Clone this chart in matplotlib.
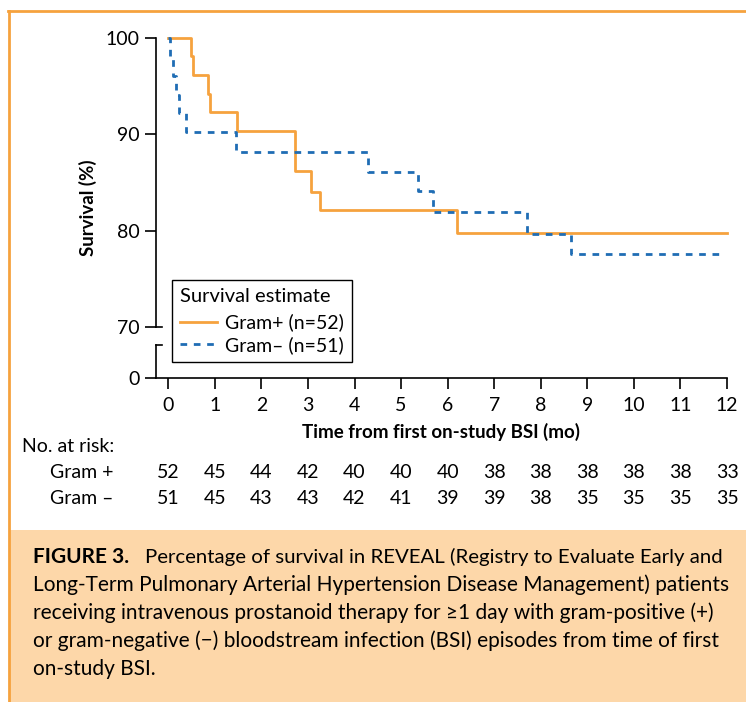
import matplotlib.pyplot as plt
import matplotlib.transforms as mtransforms
from matplotlib.patches import Rectangle
from matplotlib.lines import Line2D

plt.rcParams['font.family'] = ['Lato', 'DejaVu Sans']

# Kaplan-Meier steps (time in months, survival in %)
gram_pos_t = [0, 0.49, 0.54, 0.86, 0.90, 1.48, 2.72, 3.07, 3.26, 6.20, 12]
gram_pos_s = [100, 98.1, 96.2, 94.2, 92.3, 90.3, 86.2, 84.0, 82.1, 79.8, 79.8]
gram_neg_t = [0, 0.04, 0.10, 0.16, 0.24, 0.37, 1.45, 4.28, 5.37, 5.69, 7.70, 8.66, 11.95]
gram_neg_s = [100, 98.0, 96.1, 94.1, 92.2, 90.2, 88.2, 86.1, 84.1, 81.9, 79.7, 77.6, 77.6]

months = list(range(13))
risk_pos = [52, 45, 44, 42, 40, 40, 40, 38, 38, 38, 38, 38, 33]
risk_neg = [51, 45, 43, 43, 42, 41, 39, 39, 38, 35, 35, 35, 35]

caption_lines = [
    "Long-Term Pulmonary Arterial Hypertension Disease Management) patients",
    "receiving intravenous prostanoid therapy for \u22651 day with gram-positive (+)",
    "or gram-negative (\u2212) bloodstream infection (BSI) episodes from time of first",
    "on-study BSI.",
]
caption_head = "FIGURE 3."
caption_first = "Percentage of survival in REVEAL (Registry to Evaluate Early and"

orange = '#F6A23E'
blue = '#1F6DB4'
peach = '#FDD7A9'

W, H = 746, 702
fig = plt.figure(figsize=(W / 100, H / 100), dpi=100)


def fx(px):
    return px / W


def fy(py):
    return 1 - py / H


# panel frame and caption box
fig.add_artist(Rectangle((fx(10), 0), 1 - fx(10), fy(530), transform=fig.transFigure,
                         facecolor=peach, edgecolor='none'))
fig.add_artist(Line2D([fx(8), 1], [fy(11), fy(11)], transform=fig.transFigure,
                      color=orange, lw=2))
fig.add_artist(Line2D([fx(9), fx(9)], [fy(11), 0], transform=fig.transFigure,
                      color=orange, lw=2))

ax = fig.add_axes([fx(156), fy(378), (727 - 156) / W, (378 - 38) / H])
y0 = 70 - 51 / (289 / 30)   # position used for the "0" tick below the break
ax.set_xlim(-0.264, 12)
ax.set_ylim(y0, 100)

ax.step(gram_pos_t, gram_pos_s, where='post', color=orange, lw=2.0,
        label='Gram+ (n=52)', clip_on=False, zorder=3)
ax.step(gram_neg_t, gram_neg_s, where='post', color=blue, lw=2.0, ls=(0, (2.4, 2.4)),
        label='Gram\u2013 (n=51)', clip_on=False, zorder=4)

for s in ['top', 'right', 'left']:
    ax.spines[s].set_visible(False)
ax.spines['bottom'].set_linewidth(1.2)

# broken y axis drawn by hand
trans = mtransforms.blended_transform_factory(ax.transAxes, ax.transData)
brk = 68.13
cap = 6 / 571
ax.plot([0, 0], [70, 100], transform=trans, color='black', lw=1.2, clip_on=False)
ax.plot([0, cap], [70, 70], transform=trans, color='black', lw=1.2, clip_on=False)
ax.plot([0, 0], [y0, brk], transform=trans, color='black', lw=1.2, clip_on=False)
ax.plot([0, cap], [brk, brk], transform=trans, color='black', lw=1.2, clip_on=False)

ax.set_yticks([y0, 70, 80, 90, 100])
ax.set_yticklabels(['0', '70', '80', '90', '100'])
ax.set_xticks(months)
ax.tick_params(axis='both', direction='out', length=8, width=1.2, labelsize=14,
               colors='black')
ax.tick_params(axis='x', pad=6)
ax.tick_params(axis='y', pad=4)

ax.set_ylabel('Survival (%)', fontsize=13.5, fontweight='bold', labelpad=6)
ax.set_xlabel('Time from first on-study BSI (mo)', fontsize=13.5, fontweight='bold',
              labelpad=6)

leg = ax.legend(loc='lower left', bbox_to_anchor=(0.028, 0.047), fontsize=14,
                title='Survival estimate', title_fontsize=14.5, alignment='left',
                fancybox=False, edgecolor='black', framealpha=1, handlelength=1.9,
                borderpad=0.4, labelspacing=0.25, handletextpad=0.45,
                borderaxespad=0)
leg.get_frame().set_linewidth(1.0)
leg._legend_box.sep = 6

# number at risk table
tr = mtransforms.blended_transform_factory(ax.transData, fig.transFigure)
fig.text(fx(22), fy(447), 'No. at risk:', fontsize=14, va='center', ha='left')
fig.text(fx(50), fy(473), 'Gram +', fontsize=14, va='center', ha='left')
fig.text(fx(50), fy(499), 'Gram \u2013', fontsize=14, va='center', ha='left')
for m, a, b in zip(months, risk_pos, risk_neg):
    fig.text(m, fy(473), str(a), transform=tr, fontsize=14, va='center', ha='center')
    fig.text(m, fy(499), str(b), transform=tr, fontsize=14, va='center', ha='center')

# caption
fig.text(fx(33), fy(557), caption_head, fontsize=15, fontweight='bold',
         va='center', ha='left')
fig.text(fx(145), fy(557), caption_first, fontsize=14.7, va='center', ha='left')
for i, line in enumerate(caption_lines):
    fig.text(fx(33), fy(585 + 28 * i), line, fontsize=15, va='center', ha='left')

fig.savefig('out.png', dpi=100)
